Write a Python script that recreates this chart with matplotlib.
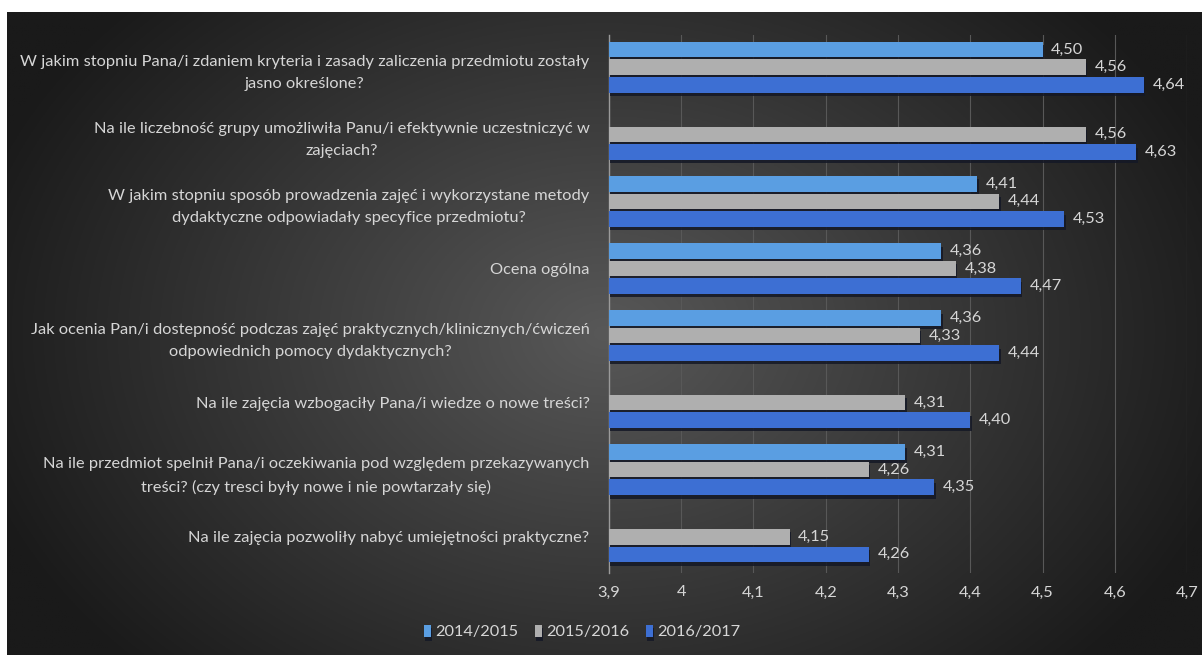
import matplotlib

matplotlib.use("Agg")
import matplotlib.patheffects as pe
import matplotlib.pyplot as plt
import numpy as np

# data (top to bottom as in the chart)
questions = [
    "W jakim stopniu Pana/i zdaniem kryteria i zasady zaliczenia przedmiotu zostały\njasno określone?",
    "Na ile liczebność grupy umożliwiła Panu/i efektywnie uczestniczyć w\nzajęciach?",
    "W jakim stopniu sposób prowadzenia zajęć i wykorzystane metody\ndydaktyczne odpowiadały specyfice przedmiotu?",
    "Ocena ogólna",
    "Jak ocenia Pan/i dostepność podczas zajęć praktycznych/klinicznych/ćwiczeń\nodpowiednich pomocy dydaktycznych?",
    "Na ile zajęcia wzbogaciły Pana/i wiedze o nowe treści?",
    "Na ile przedmiot spelnił Pana/i oczekiwania pod względem przekazywanych\ntreści? (czy tresci były nowe i nie powtarzały się)",
    "Na ile zajęcia pozwoliły nabyć umiejętności praktyczne?",
]
years = ["2014/2015", "2015/2016", "2016/2017"]
v_2014 = [4.50, np.nan, 4.41, 4.36, 4.36, np.nan, 4.31, np.nan]
v_2015 = [4.56, 4.56, 4.44, 4.38, 4.33, 4.31, 4.26, 4.15]
v_2016 = [4.64, 4.63, 4.53, 4.47, 4.44, 4.40, 4.35, 4.26]
x_ticks = [3.9, 4.0, 4.1, 4.2, 4.3, 4.4, 4.5, 4.6, 4.7]

series = [v_2014, v_2015, v_2016]
colors = ["#5a9ee2", "#afafaf", "#3d6fd3"]
text_color = "#d6d6d6"
font = "Lato"
fsize = 11.8

W, H = 1202, 655
fig = plt.figure(figsize=(W / 100, H / 100), dpi=100, facecolor="white")

# dark radial background
bg = fig.add_axes([7 / W, 0, 1 - 7 / W, 1 - 12 / H])
bg.set_axis_off()
yy, xx = np.mgrid[0:1:300j, 0:1:600j]
r = np.sqrt(((xx - 0.5) / 0.55) ** 2 + ((yy - 0.5) / 0.75) ** 2)
shade = np.clip(88 - 62 * r, 26, 92) / 255
bg.imshow(np.dstack([shade] * 3), aspect="auto", extent=[0, 1, 0, 1])

ax = fig.add_axes([609 / W, 1 - 573 / H, (1187 - 609) / W, (573 - 35) / H])
ax.set_facecolor("none")

n = len(questions)
pos = np.arange(n)
step = 0.262
height = 0.232
shadow = [pe.SimplePatchShadow(offset=(1, -2.5), shadow_rgbFace="#141826", alpha=0.85), pe.Normal()]

for i, (vals, col, lab) in enumerate(zip(series, colors, years)):
    y = pos + (i - 1) * step
    bars = ax.barh(y, np.array(vals) - 3.9, left=3.9, height=height, color=col,
                   label=lab, zorder=3)
    for b in bars:
        b.set_path_effects(shadow)
    for yi, v in zip(y, vals):
        if np.isnan(v):
            continue
        ax.text(v + 0.012, yi, f"{v:.2f}".replace(".", ","), va="center", ha="left",
                color=text_color, fontsize=fsize, family=font, zorder=4)

ax.set_ylim(7.54, -0.48)
ax.set_xlim(3.9, 4.7)
ax.set_xticks(x_ticks)
ax.set_xticklabels([f"{t:g}".replace(".", ",") for t in x_ticks], color=text_color,
                   fontsize=fsize, family=font)
ax.set_yticks(pos)
ax.set_yticklabels(questions, color=text_color, fontsize=fsize, family=font)
ax.tick_params(axis="both", length=0)
ax.tick_params(axis="x", pad=9)
ax.tick_params(axis="y", pad=14)
for lbl in ax.get_yticklabels():
    lbl.set_multialignment("center")
    lbl.set_linespacing(1.75)

ax.grid(axis="x", color="#585858", linewidth=0.8, zorder=0)
for s in ["top", "right", "bottom"]:
    ax.spines[s].set_visible(False)
ax.spines["left"].set_color("#9a9a9a")
ax.spines["left"].set_linewidth(1.0)

leg = fig.legend(loc="center", bbox_to_anchor=(582 / W, 1 - 632 / H), ncol=3,
                 frameon=False, handlelength=0.45, handleheight=0.8, handletextpad=0.25,
                 columnspacing=1.0, prop={"family": font, "size": fsize})
for t in leg.get_texts():
    t.set_color(text_color)

fig.savefig("out.png", dpi=100, facecolor=fig.get_facecolor())
